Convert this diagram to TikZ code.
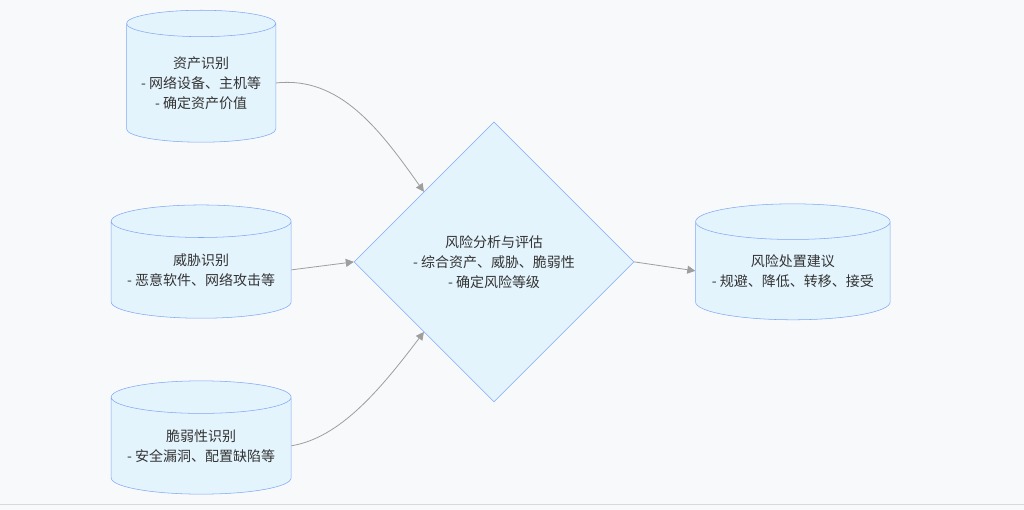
\documentclass[tikz,border=0pt]{standalone}
\usepackage{fontspec}
\setmainfont{Noto Sans CJK SC}
\usetikzlibrary{arrows.meta,shapes.geometric,positioning}
\definecolor{boxfill}{HTML}{E4F4FD}
\definecolor{boxline}{HTML}{7FA8F5}
\definecolor{edgegray}{HTML}{9E9E9E}
\definecolor{bggray}{HTML}{F8F9FB}
\tikzset{
    store/.style={draw=boxline, fill=boxfill, cylinder, shape border rotate=90,
        aspect=0.22, align=center, font=\fontsize{10.5}{15}\selectfont, text=black!80,
        inner sep=0pt},
    judge/.style={draw=boxline, fill=boxfill, diamond, align=center,
        font=\fontsize{10.5}{15}\selectfont, text=black!80,
        minimum width=210pt, minimum height=210pt, inner sep=0pt},
    flow/.style={draw=edgegray, -{Triangle[length=6pt,width=6pt]}, line width=0.6pt}
}
\begin{document}
\begin{tikzpicture}[x=0.75pt,y=-0.75pt]
    \fill[bggray] (0,0) rectangle (1024,510);
    \draw[black!15] (0,505) -- (1024,505);
    \node[store, minimum width=112pt, minimum height=99pt] (asset) at (201,83)
        {资产识别\\- 网络设备、主机等\\- 确定资产价值};
    \node[store, minimum width=135pt, minimum height=85pt] (threat) at (201,270)
        {威胁识别\\- 恶意软件、网络攻击等};
    \node[store, minimum width=135pt, minimum height=85pt] (vuln) at (201,446)
        {脆弱性识别\\- 安全漏洞、配置缺陷等};
    \node[judge] (risk) at (494,262)
        {风险分析与评估\\- 综合资产、威胁、脆弱性\\- 确定风险等级};
    \node[store, minimum width=146pt, minimum height=87pt] (advice) at (793,271)
        {风险处置建议\\- 规避、降低、转移、接受};
    % connectors
    \draw[flow] (asset.east) .. controls (340,76) and (380,130) .. (risk.north west);
    \draw[flow] (threat.east) -- (risk.west);
    \draw[flow] (vuln.east) .. controls (340,438) and (380,390) .. (risk.south west);
    \draw[flow] (risk.east) -- (advice.west);
\end{tikzpicture}
\end{document}
